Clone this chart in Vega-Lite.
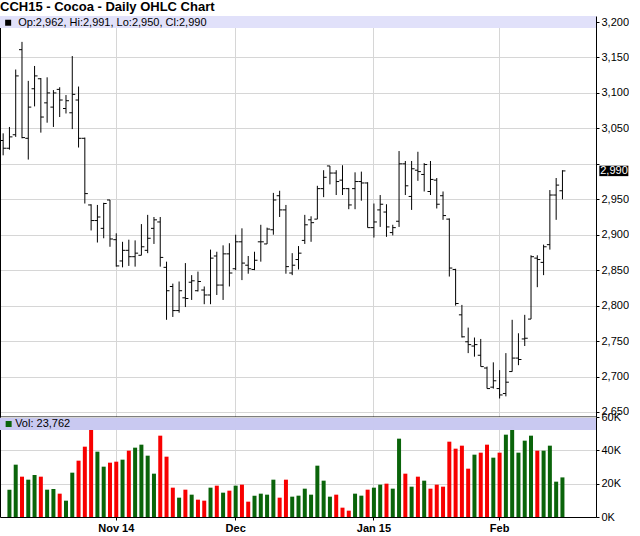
{
  "$schema": "https://vega.github.io/schema/vega-lite/v6.json",
  "padding": {"left": 0, "right": 0, "top": 1, "bottom": 0},
  "autosize": {"type": "pad"},
  "bounds": "flush",
  "spacing": 0,
  "title": {"text": "CCH15 - Cocoa - Daily OHLC Chart", "anchor": "start", "font": "Liberation Sans", "fontSize": 13, "fontWeight": "bold", "color": "#000000", "offset": 2},
  "datasets": {
    "cc": [
      {"date":"2014-10-08","open":3033,"high":3043,"low":3012,"close":3022,"dir":"up"},
      {"date":"2014-10-09","open":3022,"high":3052,"low":3020,"close":3038,"volume":16400,"dir":"up"},
      {"date":"2014-10-10","open":3041,"high":3133,"low":3038,"close":3124,"volume":31400,"dir":"up"},
      {"date":"2014-10-13","open":3161,"high":3172,"low":3036,"close":3037,"volume":24200,"dir":"down"},
      {"date":"2014-10-14","open":3036,"high":3117,"low":3006,"close":3080,"volume":22400,"dir":"up"},
      {"date":"2014-10-15","open":3106,"high":3138,"low":3081,"close":3124,"volume":25200,"dir":"up"},
      {"date":"2014-10-16","open":3120,"high":3121,"low":3044,"close":3066,"volume":24200,"dir":"down"},
      {"date":"2014-10-17","open":3086,"high":3122,"low":3058,"close":3100,"volume":16400,"dir":"up"},
      {"date":"2014-10-20","open":3080,"high":3104,"low":3052,"close":3100,"volume":16800,"dir":"up"},
      {"date":"2014-10-21","open":3105,"high":3108,"low":3066,"close":3090,"volume":14000,"dir":"down"},
      {"date":"2014-10-22","open":3078,"high":3097,"low":3071,"close":3089,"volume":9800,"dir":"up"},
      {"date":"2014-10-23","open":3072,"high":3152,"low":3049,"close":3098,"volume":26600,"dir":"up"},
      {"date":"2014-10-24","open":3090,"high":3109,"low":3023,"close":3036,"volume":33800,"dir":"down"},
      {"date":"2014-10-27","open":3036,"high":3037,"low":2944,"close":2958,"volume":42200,"dir":"down"},
      {"date":"2014-10-28","open":2942,"high":2943,"low":2906,"close":2920,"volume":52400,"dir":"down"},
      {"date":"2014-10-29","open":2920,"high":2942,"low":2889,"close":2925,"volume":39200,"dir":"up"},
      {"date":"2014-10-30","open":2909,"high":2945,"low":2895,"close":2944,"volume":30200,"dir":"up"},
      {"date":"2014-10-31","open":2949,"high":2949,"low":2883,"close":2894,"volume":32600,"dir":"down"},
      {"date":"2014-11-03","open":2893,"high":2902,"low":2855,"close":2856,"volume":33200,"dir":"down"},
      {"date":"2014-11-04","open":2863,"high":2890,"low":2854,"close":2878,"volume":34400,"dir":"up"},
      {"date":"2014-11-05","open":2878,"high":2893,"low":2856,"close":2869,"volume":39800,"dir":"down"},
      {"date":"2014-11-06","open":2869,"high":2892,"low":2855,"close":2874,"volume":41600,"dir":"up"},
      {"date":"2014-11-07","open":2871,"high":2915,"low":2871,"close":2883,"volume":43400,"dir":"up"},
      {"date":"2014-11-10","open":2878,"high":2928,"low":2874,"close":2895,"volume":36800,"dir":"up"},
      {"date":"2014-11-11","open":2909,"high":2925,"low":2887,"close":2921,"volume":26000,"dir":"up"},
      {"date":"2014-11-12","open":2918,"high":2925,"low":2855,"close":2868,"volume":48800,"dir":"down"},
      {"date":"2014-11-13","open":2854,"high":2862,"low":2780,"close":2821,"volume":36200,"dir":"down"},
      {"date":"2014-11-14","open":2827,"high":2831,"low":2784,"close":2793,"volume":17600,"dir":"down"},
      {"date":"2014-11-17","open":2793,"high":2834,"low":2790,"close":2821,"volume":11600,"dir":"up"},
      {"date":"2014-11-18","open":2811,"high":2860,"low":2798,"close":2810,"volume":16400,"dir":"down"},
      {"date":"2014-11-19","open":2833,"high":2843,"low":2808,"close":2835,"volume":13400,"dir":"up"},
      {"date":"2014-11-20","open":2821,"high":2848,"low":2820,"close":2834,"volume":10400,"dir":"down"},
      {"date":"2014-11-21","open":2822,"high":2827,"low":2802,"close":2815,"volume":9800,"dir":"down"},
      {"date":"2014-11-24","open":2815,"high":2879,"low":2802,"close":2867,"volume":17600,"dir":"up"},
      {"date":"2014-11-25","open":2870,"high":2876,"low":2815,"close":2829,"volume":18800,"dir":"down"},
      {"date":"2014-11-26","open":2829,"high":2885,"low":2808,"close":2873,"volume":14600,"dir":"up"},
      {"date":"2014-11-28","open":2873,"high":2888,"low":2827,"close":2846,"volume":15800,"dir":"down"},
      {"date":"2014-12-01","open":2852,"high":2900,"low":2850,"close":2890,"volume":18800,"dir":"up"},
      {"date":"2014-12-02","open":2890,"high":2909,"low":2836,"close":2860,"volume":19400,"dir":"down"},
      {"date":"2014-12-03","open":2857,"high":2870,"low":2845,"close":2852,"volume":9200,"dir":"down"},
      {"date":"2014-12-04","open":2851,"high":2876,"low":2850,"close":2864,"volume":12800,"dir":"up"},
      {"date":"2014-12-05","open":2890,"high":2914,"low":2862,"close":2890,"volume":14000,"dir":"up"},
      {"date":"2014-12-08","open":2887,"high":2910,"low":2887,"close":2908,"volume":13400,"dir":"up"},
      {"date":"2014-12-09","open":2907,"high":2959,"low":2900,"close":2949,"volume":22400,"dir":"up"},
      {"date":"2014-12-10","open":2955,"high":2962,"low":2925,"close":2935,"volume":11600,"dir":"down"},
      {"date":"2014-12-11","open":2935,"high":2942,"low":2845,"close":2855,"volume":22400,"dir":"down"},
      {"date":"2014-12-12","open":2846,"high":2874,"low":2843,"close":2857,"volume":12200,"dir":"up"},
      {"date":"2014-12-15","open":2865,"high":2884,"low":2851,"close":2874,"volume":12800,"dir":"up"},
      {"date":"2014-12-16","open":2892,"high":2928,"low":2887,"close":2914,"volume":17000,"dir":"up"},
      {"date":"2014-12-17","open":2921,"high":2926,"low":2890,"close":2917,"volume":13400,"dir":"up"},
      {"date":"2014-12-18","open":2922,"high":2969,"low":2922,"close":2965,"volume":30800,"dir":"up"},
      {"date":"2014-12-19","open":2965,"high":2991,"low":2953,"close":2981,"volume":21800,"dir":"up"},
      {"date":"2014-12-22","open":2997,"high":2997,"low":2971,"close":2987,"volume":12200,"dir":"up"},
      {"date":"2014-12-23","open":2987,"high":2991,"low":2956,"close":2975,"volume":13400,"dir":"down"},
      {"date":"2014-12-24","open":2977,"high":2998,"low":2956,"close":2965,"volume":5600,"dir":"down"},
      {"date":"2014-12-26","open":2965,"high":2966,"low":2936,"close":2942,"volume":3800,"dir":"down"},
      {"date":"2014-12-29","open":2965,"high":2988,"low":2936,"close":2975,"volume":14000,"dir":"up"},
      {"date":"2014-12-30","open":2975,"high":2989,"low":2948,"close":2973,"volume":12800,"dir":"up"},
      {"date":"2014-12-31","open":2973,"high":2974,"low":2910,"close":2910,"volume":16400,"dir":"down"},
      {"date":"2015-01-02","open":2910,"high":2944,"low":2896,"close":2918,"volume":17600,"dir":"up"},
      {"date":"2015-01-05","open":2935,"high":2956,"low":2911,"close":2943,"volume":19400,"dir":"up"},
      {"date":"2015-01-06","open":2932,"high":2943,"low":2897,"close":2911,"volume":20000,"dir":"down"},
      {"date":"2015-01-07","open":2903,"high":2914,"low":2899,"close":2910,"volume":17000,"dir":"up"},
      {"date":"2015-01-08","open":2919,"high":3018,"low":2911,"close":3000,"volume":47000,"dir":"up"},
      {"date":"2015-01-09","open":3000,"high":3004,"low":2956,"close":2969,"volume":26000,"dir":"down"},
      {"date":"2015-01-12","open":2954,"high":3004,"low":2935,"close":2993,"volume":18200,"dir":"up"},
      {"date":"2015-01-13","open":2991,"high":3017,"low":2976,"close":2989,"volume":24200,"dir":"down"},
      {"date":"2015-01-14","open":2985,"high":3001,"low":2961,"close":2999,"volume":21800,"dir":"up"},
      {"date":"2015-01-15","open":2961,"high":3004,"low":2956,"close":2978,"volume":17000,"dir":"down"},
      {"date":"2015-01-16","open":2977,"high":2980,"low":2937,"close":2943,"volume":19400,"dir":"down"},
      {"date":"2015-01-20","open":2955,"high":2961,"low":2921,"close":2927,"volume":18200,"dir":"down"},
      {"date":"2015-01-21","open":2922,"high":2923,"low":2841,"close":2853,"volume":45200,"dir":"down"},
      {"date":"2015-01-22","open":2851,"high":2852,"low":2800,"close":2803,"volume":41000,"dir":"down"},
      {"date":"2015-01-23","open":2787,"high":2801,"low":2755,"close":2756,"volume":42800,"dir":"down"},
      {"date":"2015-01-26","open":2749,"high":2769,"low":2733,"close":2745,"volume":29000,"dir":"down"},
      {"date":"2015-01-27","open":2743,"high":2755,"low":2728,"close":2745,"volume":37400,"dir":"up"},
      {"date":"2015-01-28","open":2730,"high":2753,"low":2714,"close":2714,"volume":38600,"dir":"down"},
      {"date":"2015-01-29","open":2712,"high":2714,"low":2683,"close":2683,"volume":43400,"dir":"down"},
      {"date":"2015-01-30","open":2685,"high":2720,"low":2683,"close":2694,"volume":35600,"dir":"up"},
      {"date":"2015-02-02","open":2683,"high":2709,"low":2669,"close":2674,"volume":38600,"dir":"down"},
      {"date":"2015-02-03","open":2676,"high":2733,"low":2672,"close":2692,"volume":49400,"dir":"up"},
      {"date":"2015-02-04","open":2707,"high":2780,"low":2707,"close":2726,"volume":54200,"dir":"up"},
      {"date":"2015-02-05","open":2726,"high":2761,"low":2716,"close":2724,"volume":38600,"dir":"up"},
      {"date":"2015-02-06","open":2753,"high":2787,"low":2743,"close":2754,"volume":45800,"dir":"up"},
      {"date":"2015-02-09","open":2781,"high":2871,"low":2781,"close":2869,"volume":48800,"dir":"up"},
      {"date":"2015-02-10","open":2867,"high":2871,"low":2826,"close":2865,"volume":39800,"dir":"down"},
      {"date":"2015-02-11","open":2861,"high":2886,"low":2843,"close":2883,"volume":39800,"dir":"up"},
      {"date":"2015-02-12","open":2886,"high":2963,"low":2879,"close":2956,"volume":42800,"dir":"up"},
      {"date":"2015-02-13","open":2956,"high":2980,"low":2921,"close":2970,"volume":21200,"dir":"up"},
      {"date":"2015-02-17","open":2962,"high":2991,"low":2950,"close":2990,"volume":23762,"dir":"up"}
    ]
  },
  "data": {"name": "cc"},
  "resolve": {"scale": {"x": "shared"}},
  "vconcat": [
    {
      "width": 596,
      "height": 401,
      "resolve": {"axis": {"y": "independent"}},
      "layer": [
        {
          "mark": {"type": "rule", "color": "#000000", "strokeWidth": 1},
          "encoding": {
            "x": {
              "field": "date", "type": "ordinal",
              "scale": {"type": "band", "paddingInner": 0, "paddingOuter": 0.42, "align": 0, "round": false, "domain": [
                "2014-10-08","2014-10-09","2014-10-10","2014-10-13","2014-10-14","2014-10-15","2014-10-16","2014-10-17","2014-10-20","2014-10-21","2014-10-22","2014-10-23","2014-10-24","2014-10-27","2014-10-28","2014-10-29","2014-10-30","2014-10-31",
                "2014-11-03","2014-11-04","2014-11-05","2014-11-06","2014-11-07","2014-11-10","2014-11-11","2014-11-12","2014-11-13","2014-11-14","2014-11-17","2014-11-18","2014-11-19","2014-11-20","2014-11-21","2014-11-24","2014-11-25","2014-11-26","2014-11-28",
                "2014-12-01","2014-12-02","2014-12-03","2014-12-04","2014-12-05","2014-12-08","2014-12-09","2014-12-10","2014-12-11","2014-12-12","2014-12-15","2014-12-16","2014-12-17","2014-12-18","2014-12-19","2014-12-22","2014-12-23","2014-12-24","2014-12-26","2014-12-29","2014-12-30","2014-12-31",
                "2015-01-02","2015-01-05","2015-01-06","2015-01-07","2015-01-08","2015-01-09","2015-01-12","2015-01-13","2015-01-14","2015-01-15","2015-01-16","2015-01-20","2015-01-21","2015-01-22","2015-01-23","2015-01-26","2015-01-27","2015-01-28","2015-01-29","2015-01-30",
                "2015-02-02","2015-02-03","2015-02-04","2015-02-05","2015-02-06","2015-02-09","2015-02-10","2015-02-11","2015-02-12","2015-02-13","2015-02-17","2015-02-18","2015-02-19","2015-02-20","2015-02-23"
              ]},
              "axis": {"values": ["2014-11-03", "2014-12-01", "2015-01-02", "2015-02-02"], "bandPosition": 0.5, "labels": false, "ticks": false, "grid": true, "gridColor": "#d6d6d6", "domain": true, "domainColor": "#000000", "domainWidth": 2, "title": null, "orient": "bottom"}
            },
            "y": {
              "field": "low", "type": "quantitative",
              "scale": {"domain": [2642.9, 3208.5], "nice": false, "zero": false},
              "axis": {"orient": "right", "values": [2650, 2700, 2750, 2800, 2850, 2900, 2950, 3000, 3050, 3100, 3150, 3200], "labelExpr": "datum.value == 3000 ? '' : format(datum.value, ',')", "grid": true, "gridColor": "#d6d6d6", "domainColor": "#000000", "tickColor": "#000000", "tickSize": 3, "labelPadding": 2, "labelFont": "Liberation Sans", "labelFontSize": 11, "labelColor": "#000000", "labelOverlap": false, "title": null}
            },
            "y2": {"field": "high"}
          }
        },
        {
          "mark": {"type": "tick", "color": "#000000", "size": 3, "thickness": 1, "xOffset": -1.5, "opacity": 1},
          "encoding": {
            "x": {"field": "date", "type": "ordinal"},
            "y": {"field": "open", "type": "quantitative", "axis": null}
          }
        },
        {
          "mark": {"type": "tick", "color": "#000000", "size": 3, "thickness": 1, "xOffset": 1.5, "opacity": 1},
          "encoding": {
            "x": {"field": "date", "type": "ordinal"},
            "y": {"field": "close", "type": "quantitative", "axis": null}
          }
        },
        {
          "mark": {"type": "rect", "color": "#e1e1fa"},
          "encoding": {
            "y": {"datum": 3208.5, "type": "quantitative", "axis": {"orient": "left", "labels": false, "ticks": false, "grid": false, "domain": true, "domainColor": "#000000", "title": null}},
            "y2": {"datum": 3191.6}
          }
        },
        {
          "transform": [{"filter": "datum.date == '2015-02-17'"}],
          "mark": {"type": "point", "shape": "square", "filled": true, "color": "#000000", "size": 36, "opacity": 1, "xOffset": 5},
          "encoding": {
            "x": {"datum": "2014-10-08", "type": "ordinal"},
            "y": {"datum": 3199, "type": "quantitative", "axis": null}
          }
        },
        {
          "transform": [
            {"filter": "datum.date == '2015-02-17'"},
            {"calculate": "'Op:' + format(datum.open, ',') + ', Hi:' + format(datum.high, ',') + ', Lo:' + format(datum.low, ',') + ', Cl:' + format(datum.close, ',')", "as": "hdr"}
          ],
          "mark": {"type": "text", "align": "left", "baseline": "middle", "font": "Liberation Sans", "fontSize": 11, "color": "#000000", "xOffset": 15},
          "encoding": {
            "x": {"datum": "2014-10-08", "type": "ordinal"},
            "y": {"datum": 3199, "type": "quantitative", "axis": null},
            "text": {"field": "hdr"}
          }
        },
        {
          "transform": [{"filter": "datum.date == '2015-02-17'"}],
          "mark": {"type": "point", "shape": "M-1,-0.36L1,-0.36L1,0.36L-1,0.36Z", "filled": true, "color": "#000000", "size": 841, "opacity": 1, "xOffset": 51.4},
          "encoding": {
            "x": {"field": "date", "type": "ordinal"},
            "y": {"field": "close", "type": "quantitative", "axis": null}
          }
        },
        {
          "transform": [{"filter": "datum.date == '2015-02-17'"}],
          "mark": {"type": "text", "align": "left", "baseline": "middle", "font": "Liberation Sans", "fontSize": 11, "color": "#ffffff", "xOffset": 37.8},
          "encoding": {
            "x": {"field": "date", "type": "ordinal"},
            "y": {"field": "close", "type": "quantitative", "axis": null},
            "text": {"field": "close", "format": ","}
          }
        }
      ]
    },
    {
      "width": 596,
      "height": 100,
      "resolve": {"axis": {"y": "independent"}},
      "layer": [
        {
          "transform": [{"filter": "isValid(datum.volume)"}],
          "mark": {"type": "bar", "size": 4},
          "encoding": {
            "x": {
              "field": "date", "type": "ordinal",
              "axis": {"values": ["2014-11-03", "2014-12-01", "2015-01-02", "2015-02-02"], "bandPosition": 0.5, "labelExpr": "datum.value == '2014-11-03' ? 'Nov 14' : datum.value == '2014-12-01' ? 'Dec' : datum.value == '2015-01-02' ? 'Jan 15' : 'Feb'", "labelAngle": 0, "labelFont": "Liberation Sans", "labelFontSize": 11, "labelFontWeight": "bold", "labelColor": "#000000", "labelPadding": 2, "tickSize": 3, "tickColor": "#000000", "grid": true, "gridColor": "#d6d6d6", "domain": true, "domainColor": "#000000", "title": null, "orient": "bottom"}
            },
            "y": {
              "field": "volume", "type": "quantitative",
              "scale": {"domain": [0, 60000], "nice": false},
              "axis": {"orient": "right", "values": [0, 20000, 40000, 60000], "labelExpr": "(datum.value / 1000) + 'K'", "grid": true, "gridColor": "#d6d6d6", "domainColor": "#000000", "tickColor": "#000000", "tickSize": 3, "labelPadding": 2, "labelFont": "Liberation Sans", "labelFontSize": 11, "labelColor": "#000000", "labelOverlap": false, "title": null}
            },
            "color": {"field": "dir", "type": "nominal", "scale": {"domain": ["up", "down"], "range": ["#0a640a", "#f80000"]}, "legend": null}
          }
        },
        {
          "mark": {"type": "rect", "color": "#c8c8f0", "opacity": 0.55},
          "encoding": {
            "y": {"datum": 59400, "type": "quantitative", "axis": {"orient": "left", "labels": false, "ticks": false, "grid": false, "domain": true, "domainColor": "#000000", "title": null}},
            "y2": {"datum": 52200}
          }
        },
        {
          "transform": [{"filter": "datum.date == '2015-02-17'"}],
          "mark": {"type": "point", "shape": "square", "filled": true, "color": "#0a640a", "size": 36, "opacity": 1, "xOffset": 5.5},
          "encoding": {
            "x": {"datum": "2014-10-08", "type": "ordinal"},
            "y": {"datum": 55800, "type": "quantitative", "axis": null}
          }
        },
        {
          "transform": [
            {"filter": "datum.date == '2015-02-17'"},
            {"calculate": "'Vol: ' + format(datum.volume, ',')", "as": "vh"}
          ],
          "mark": {"type": "text", "align": "left", "baseline": "middle", "font": "Liberation Sans", "fontSize": 11, "color": "#000000", "xOffset": 12},
          "encoding": {
            "x": {"datum": "2014-10-08", "type": "ordinal"},
            "y": {"datum": 55800, "type": "quantitative", "axis": null},
            "text": {"field": "vh"}
          }
        }
      ]
    }
  ],
  "config": {
    "view": {"stroke": null},
    "font": "Liberation Sans",
    "background": "#ffffff"
  }
}
